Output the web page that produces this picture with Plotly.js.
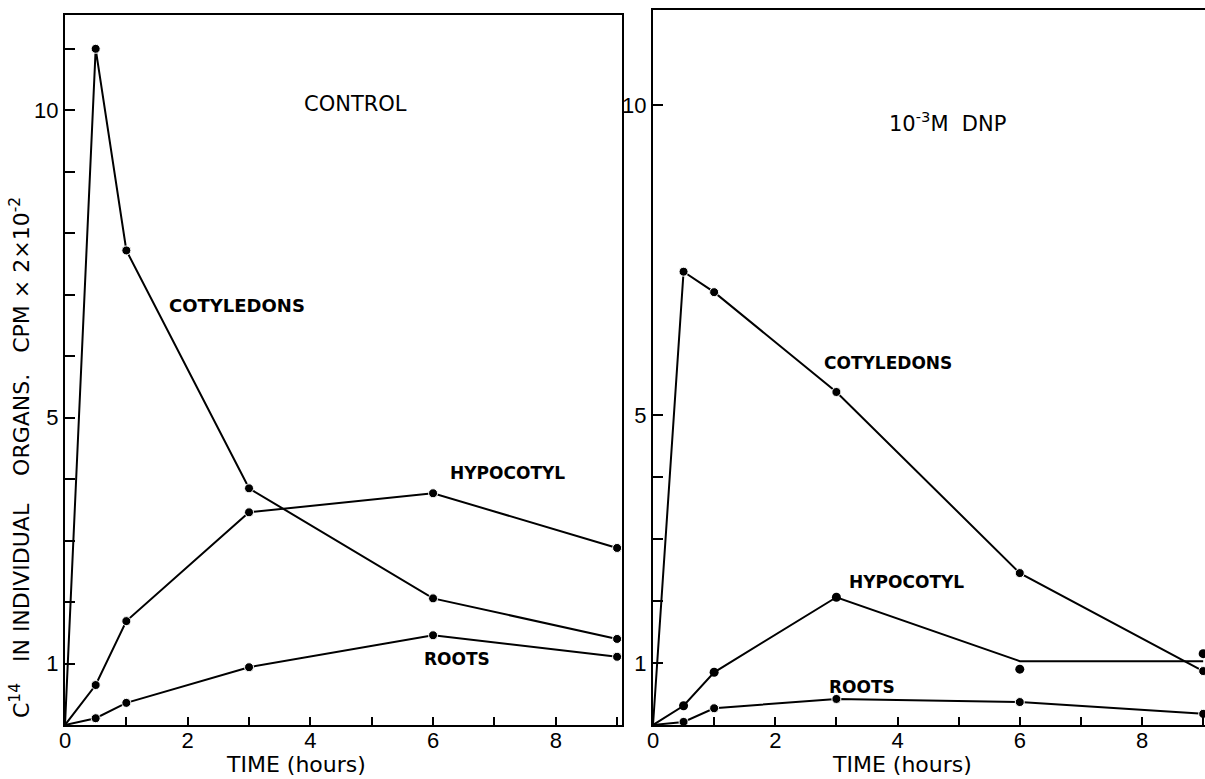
<!DOCTYPE html>
<html>
<head>
<meta charset="utf-8">
<script src="https://cdn.plot.ly/plotly-3.0.1.min.js"></script>
<style>html,body{margin:0;padding:0;background:#fff;}#chart{width:1205px;height:779px;}</style>
</head>
<body>
<div id="chart"></div>
<script>
// Sampling times (hours)
const hours = [0, 0.5, 1, 3, 6, 9];

// CONTROL panel
const controlCotyledons = [0, 11.0, 7.72, 3.85, 2.06, 1.40];
const controlHypocotyl  = [0, 0.65, 1.69, 3.46, 3.77, 2.88];
const controlRoots      = [0, 0.11, 0.36, 0.94, 1.46, 1.11];

// 10^-3 M DNP panel
const dnpCotyledons     = [0, 7.31, 6.98, 5.37, 2.45, 0.87];
const dnpHypocotylLine  = [0, 0.31, 0.85, 2.06, 1.03, 1.03];
const dnpHypocotylPts   = [null, 0.31, 0.85, 2.06, 0.90, 1.15];
const dnpRoots          = [0, 0.05, 0.27, 0.42, 0.37, 0.18];

// Tick labels
const xTickVals = [0, 2, 4, 6, 8];
const xTickText = ['0', '2', '4', '6', '8'];
const xMinorVals = [1, 3, 5, 7, 9];
const yTickVals = [1, 5, 10];
const yTickText = ['1', '5', '10'];
const yMinorLeft = [2, 3, 4, 6, 7, 8, 9, 11];
const yMinorRight = [2, 3, 4];

const FONT = 'Liberation Sans, Arial, sans-serif';
const WIDE = 'DejaVu Sans, Liberation Sans, sans-serif';
const mk = [0, 9, 9, 9, 9, 9];

function series(y, xa, ya) {
  return {x: hours, y: y, xaxis: xa, yaxis: ya, mode: 'lines+markers',
    line: {color: '#000', width: 2}, marker: {color: '#000', size: mk, opacity: 1},
    showlegend: false, hoverinfo: 'x+y'};
}

const traces = [
  series(controlCotyledons, 'x', 'y'),
  series(controlHypocotyl, 'x', 'y'),
  series(controlRoots, 'x', 'y'),
  series(dnpCotyledons, 'x2', 'y2'),
  {x: hours, y: dnpHypocotylLine, xaxis: 'x2', yaxis: 'y2', mode: 'lines',
   line: {color: '#000', width: 2}, showlegend: false},
  {x: hours, y: dnpHypocotylPts, xaxis: 'x2', yaxis: 'y2', mode: 'markers',
   marker: {color: '#000', size: 9, opacity: 1}, showlegend: false},
  series(dnpRoots, 'x2', 'y2')
];

const W = 1205, H = 779;
const axCommon = {showline: true, linecolor: '#000', linewidth: 2, ticks: 'inside',
  tickcolor: '#000', tickwidth: 2, showgrid: false, zeroline: false,
  tickfont: {family: FONT, size: 22, color: '#000'}, tickmode: 'array', fixedrange: true};

function xAx(dom, rng, anchor) {
  return Object.assign({}, axCommon, {domain: dom, range: rng, tickvals: xTickVals,
    ticktext: xTickText, ticklen: 8, mirror: true, anchor: anchor, ticklabelstandoff: -5,
    minor: {tickmode: 'array', tickvals: xMinorVals, ticks: 'inside', ticklen: 8,
            tickwidth: 2, tickcolor: '#000', showgrid: false}});
}
function yAx(dom, rng, anchor, minorVals, mirror) {
  return Object.assign({}, axCommon, {domain: dom, range: rng, tickvals: yTickVals,
    ticktext: yTickText, ticklen: 10, mirror: mirror, anchor: anchor,
    minor: {tickmode: 'array', tickvals: minorVals, ticks: 'inside', ticklen: 10,
            tickwidth: 2, tickcolor: '#000', showgrid: false}});
}

function lab(text, x, y, xr, yr, size, bold, fam) {
  return {text: text, x: x, y: y, xref: xr, yref: yr, showarrow: false,
    xanchor: 'center', yanchor: 'middle',
    font: {family: fam || WIDE, size: size, color: '#000', weight: bold ? 'bold' : 'normal'}};
}

const layout = {
  width: W, height: H,
  margin: {l: 0, r: 0, t: 0, b: 0},
  paper_bgcolor: '#fff', plot_bgcolor: '#fff',
  font: {family: FONT, color: '#000'},
  xaxis: xAx([65/W, 622/W], [0, 9.08], 'y'),
  yaxis: yAx([(H-725)/H, (H-15)/H], [0, 11.55], 'x', yMinorLeft, true),
  xaxis2: xAx([653/W, 1], [0, 9.03], 'y2'),
  yaxis2: yAx([(H-725)/H, (H-10)/H], [0, 11.53], 'x2', yMinorRight, false),
  annotations: [
    lab('CONTROL', 4.73, 10.10, 'x', 'y', 21, false),
    lab('COTYLEDONS', 2.80, 6.82, 'x', 'y', 18, true),
    lab('HYPOCOTYL', 7.21, 4.10, 'x', 'y', 17, true),
    lab('ROOTS', 6.39, 1.08, 'x', 'y', 17, true),
    lab('10<sup>-3</sup>M  DNP', 4.81, 9.73, 'x2', 'y2', 21, false),
    lab('COTYLEDONS', 3.85, 5.84, 'x2', 'y2', 17, true),
    lab('HYPOCOTYL', 4.14, 2.31, 'x2', 'y2', 17, true),
    lab('ROOTS', 3.42, 0.61, 'x2', 'y2', 17, true),
    lab('TIME (hours)', 296/W, (H-764)/H, 'paper', 'paper', 22, false),
    lab('TIME (hours)', 902/W, (H-764)/H, 'paper', 'paper', 22, false),
    Object.assign(lab('C<sup>14</sup>   IN INDIVIDUAL    ORGANS.   CPM × 2×10<sup>-2</sup>',
      20/W, (H-458)/H, 'paper', 'paper', 22, false), {textangle: -90})
  ]
};

Plotly.newPlot('chart', traces, layout, {displayModeBar: false, staticPlot: true});
</script>
</body>
</html>
